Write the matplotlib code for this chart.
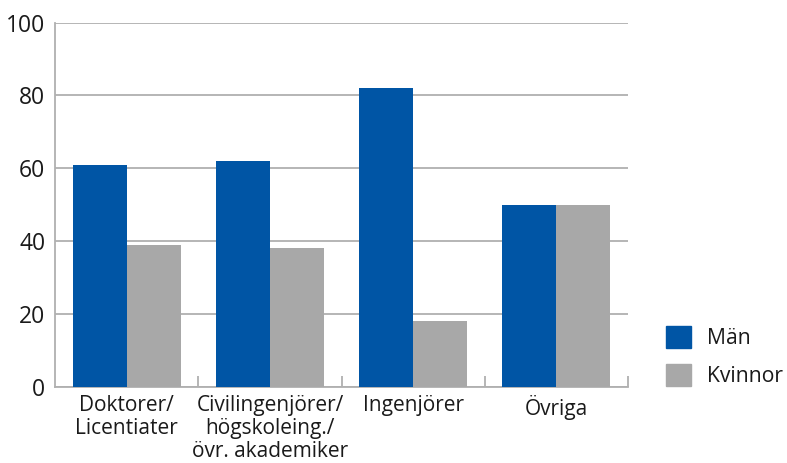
import numpy as np
import matplotlib.pyplot as plt
from matplotlib.patches import Patch

categories = ["Doktorer/\nLicentiater", "Civilingenjörer/\nhögskoleing./\növr. akademiker",
              "Ingenjörer", "Övriga"]
man = [61, 62, 82, 50]
kvinnor = [39, 38, 18, 50]

blue = "#0055a5"
grey = "#a8a8a8"
axis_grey = "#b0b0b0"

plt.rcParams['font.family'] = ['Open Sans', 'DejaVu Sans']

fig = plt.figure(figsize=(7.87, 4.63), dpi=100)
ax = fig.add_axes([55 / 787, (463 - 387) / 463, (628 - 55) / 787, (387 - 22.5) / 463])

x = np.arange(len(categories))
w = 0.377
ax.bar(x - w / 2, man, w, color=blue, zorder=3)
ax.bar(x + w / 2, kvinnor, w, color=grey, zorder=3)

ax.set_xlim(-0.5, len(categories) - 0.5)
ax.set_ylim(0, 100)
ax.set_yticks(range(0, 101, 20))
ax.yaxis.grid(True, color=axis_grey, linewidth=1.3, zorder=0)
ax.tick_params(axis='y', length=0, labelsize=16.5, pad=7, colors='#1a1a1a')

ax.set_xticks(x)
ax.set_xticklabels(categories, fontsize=15, linespacing=1.1, color='#1a1a1a')
ax.tick_params(axis='x', which='major', length=0, pad=6)
ax.set_xticks(np.arange(0.5, len(categories), 1), minor=True)
ax.tick_params(axis='x', which='minor', direction='in', length=8, color=axis_grey, width=1.3)

for s in ['top', 'right']:
    ax.spines[s].set_visible(False)
ax.spines['left'].set_color(axis_grey)
ax.spines['bottom'].set_color(axis_grey)
ax.spines['left'].set_linewidth(1.3)
ax.spines['bottom'].set_linewidth(1.3)

handles = [Patch(color=blue, label="Män"), Patch(color=grey, label="Kvinnor")]
fig.legend(handles=handles, loc='upper left', bbox_to_anchor=(666 / 787, 1 - 326 / 463),
           frameon=False, fontsize=15.2, handlelength=1.19, handleheight=1.19,
           handletextpad=0.75, labelspacing=0.72, borderpad=0, borderaxespad=0,
           labelcolor='#1a1a1a')

fig.savefig("out.png", dpi=100)
